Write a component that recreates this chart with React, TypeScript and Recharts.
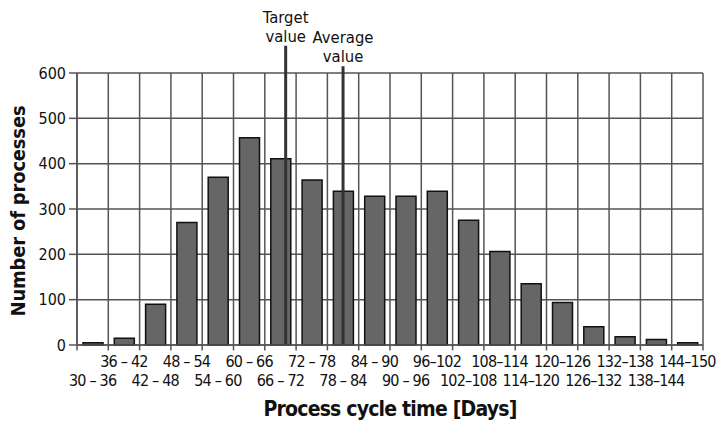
import {
  Bar,
  BarChart,
  CartesianGrid,
  ReferenceLine,
  XAxis,
  YAxis,
} from "recharts";

const categories = [
  "30 – 36", "36 – 42", "42 – 48", "48 – 54", "54 – 60", "60 – 66", "66 – 72",
  "72 – 78", "78 – 84", "84 – 90", "90 – 96", "96–102", "102–108", "108–114",
  "114–120", "120–126", "126–132", "132–138", "138–144", "144–150",
];
const binMids = [
  33, 39, 45, 51, 57, 63, 69, 75, 81, 87, 93, 99, 105, 111, 117, 123, 129, 135,
  141, 147,
];
const processCounts = [
  5, 15, 90, 270, 370, 457, 411, 364, 339, 328, 328, 339, 275, 206, 135, 94, 40,
  18, 12, 5,
];
const binEdges = [
  30, 36, 42, 48, 54, 60, 66, 72, 78, 84, 90, 96, 102, 108, 114, 120, 126, 132,
  138, 144, 150,
];
const yTicks = [0, 100, 200, 300, 400, 500, 600];
const markerNames = [["Target", "value"], ["Average", "value"]];
const markerValues = [70, 81];
const markerTops = [660, 615];

const data = categories.map((name, i) => ({
  name,
  mid: binMids[i],
  count: processCounts[i],
}));

const FONT = "'DejaVu Sans Condensed', 'DejaVu Sans', sans-serif";
const GRID = "#555";

const XTick = (props: any) => {
  const { x, y, payload } = props;
  const idx = binMids.indexOf(payload.value);
  const lower = idx % 2 === 0;
  return (
    <text
      x={x}
      y={y + (lower ? 41 : 22)}
      textAnchor="middle"
      fontFamily={FONT}
      fontSize={16}
      letterSpacing={-0.8}
      fill="#111"
    >
      {categories[idx]}
    </text>
  );
};

const markerLabel = (lines: string[]) => (props: any) => {
  const { viewBox } = props;
  const cx = viewBox.x;
  const top = viewBox.y;
  return (
    <g>
      <text x={cx} y={top - 23} textAnchor="middle" fontFamily={FONT} fontSize={16.5} fill="#111">
        {lines[0]}
      </text>
      <text x={cx} y={top - 4} textAnchor="middle" fontFamily={FONT} fontSize={16.5} fill="#111">
        {lines[1]}
      </text>
    </g>
  );
};

const YTitle = (props: any) => {
  const { viewBox } = props;
  const cx = 18;
  const cy = viewBox.y + viewBox.height / 2 + 2;
  return (
    <text
      x={cx}
      y={cy}
      transform={`rotate(-90 ${cx} ${cy})`}
      textAnchor="middle"
      dominantBaseline="central"
      fontFamily={FONT}
      fontWeight="bold"
      fontSize={20}
      letterSpacing={-0.2}
      fill="#111"
    >
      Number of processes
    </text>
  );
};

const XTitle = (props: any) => {
  const { viewBox } = props;
  const cx = viewBox.x + viewBox.width / 2;
  return (
    <text
      x={cx}
      y={416}
      textAnchor="middle"
      fontFamily={FONT}
      fontWeight="bold"
      fontSize={21}
      letterSpacing={-0.8}
      fill="#111"
    >
      Process cycle time [Days]
    </text>
  );
};

export default function App() {
  return (
    <div style={{ position: "absolute", left: 0, top: 0, background: "#fff" }}>
      <BarChart
        width={721}
        height={422}
        data={data}
        margin={{ top: 73, right: 18, bottom: 0, left: 0 }}
      >
        <CartesianGrid
          verticalValues={binEdges}
          stroke={GRID}
          strokeWidth={1.5}
        />
        <XAxis
          dataKey="mid"
          type="number"
          domain={[30, 150]}
          allowDataOverflow
          ticks={binMids}
          interval={0}
          height={77}
          tickLine={false}
          tickSize={0}
          tickMargin={0}
          axisLine={{ stroke: GRID, strokeWidth: 1.5 }}
          tick={<XTick />}
          label={<XTitle />}
        />
        <YAxis
          width={77}
          domain={[0, 600]}
          ticks={yTicks}
          tickSize={8}
          tickMargin={3}
          axisLine={{ stroke: GRID, strokeWidth: 1.5 }}
          tickLine={{ stroke: GRID, strokeWidth: 1.5 }}
          tick={{ fontFamily: FONT, fontSize: 16, fill: "#111" }}
          label={<YTitle />}
        />
        <Bar
          dataKey="count"
          barSize={20}
          fill="#666"
          stroke="#111"
          strokeWidth={1.5}
          isAnimationActive={false}
        />
        {binEdges.map((b) => (
          <ReferenceLine
            key={b}
            segment={[
              { x: b, y: 0 },
              { x: b, y: -12 },
            ]}
            ifOverflow="visible"
            stroke={GRID}
            strokeWidth={1.5}
          />
        ))}
        {markerValues.map((v, i) => (
          <ReferenceLine
            key={`m${i}`}
            segment={[
              { x: v, y: 0 },
              { x: v, y: markerTops[i] },
            ]}
            ifOverflow="visible"
            stroke="#333"
            strokeWidth={3}
            label={markerLabel(markerNames[i])}
          />
        ))}
      </BarChart>
    </div>
  );
}
